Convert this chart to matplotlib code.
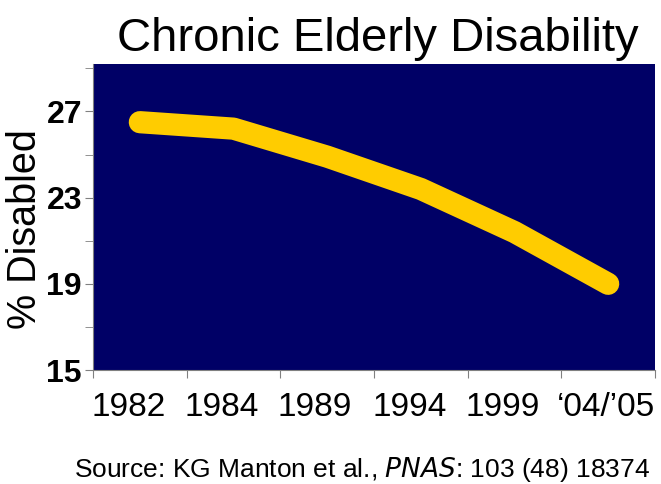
import matplotlib.pyplot as plt
import matplotlib.transforms as mtransforms
import numpy as np

plt.rcParams['font.family'] = ['Liberation Sans', 'DejaVu Sans']

# data
years = ['1982', '1984', '1989', '1994', '1999', '\u201804/\u201905']
disabled = [26.5, 26.2, 24.9, 23.4, 21.4, 19.0]

fig = plt.figure(figsize=(6.61, 4.84), dpi=100)
ax = fig.add_axes([93 / 661, 1 - 370 / 484, 562 / 661, 306 / 484])
ax.set_facecolor('#000066')

x = np.arange(len(years))
ax.plot(x, disabled, color='#FFCC00', lw=16, solid_capstyle='round',
        solid_joinstyle='round')

ax.set_xlim(-0.5, len(years) - 0.5)
ax.set_ylim(15, 29.2)

# ticks between categories, labels at centres
ax.set_xticks(np.arange(-0.5, len(years)), minor=False)
ax.set_xticklabels([])
ax.set_xticks(x, minor=True)
ax.set_xticklabels(years, minor=True, fontsize=24)
ax.tick_params(axis='x', which='minor', length=0, pad=16)
ax.tick_params(axis='x', which='major', length=6, color='#808080', direction='out')

# labels sit a little left of the category centres
shifts = [-0.11, -0.12, -0.12, -0.11, -0.12, -0.02]
for lab, dx in zip(ax.get_xticklabels(minor=True), shifts):
    lab.set_transform(lab.get_transform() + mtransforms.ScaledTranslation(dx, 0, fig.dpi_scale_trans))

ax.set_yticks([15, 19, 23, 27])
ax.set_yticklabels(['15', '19', '23', '27'], fontsize=23, fontweight='bold')
ax.set_yticks([17, 21, 25, 29], minor=True)
ax.tick_params(axis='y', which='both', length=6, color='#808080', direction='out', pad=2)

for s in ['top', 'right']:
    ax.spines[s].set_visible(False)
for s in ['left', 'bottom']:
    ax.spines[s].set_color('#808080')

ax.set_ylabel('% Disabled', fontsize=28.5)
ax.yaxis.set_label_coords(-0.088, 0.46)

fig.text(0.572, 0.92, 'Chronic Elderly Disability', fontsize=34, ha='center', va='center')
fig.text(0.548, 0.03, 'Source: KG Manton et al., $\\it{PNAS}$: 103 (48) 18374',
         fontsize=19, ha='center', va='center')

fig.savefig('out.png', dpi=100)
